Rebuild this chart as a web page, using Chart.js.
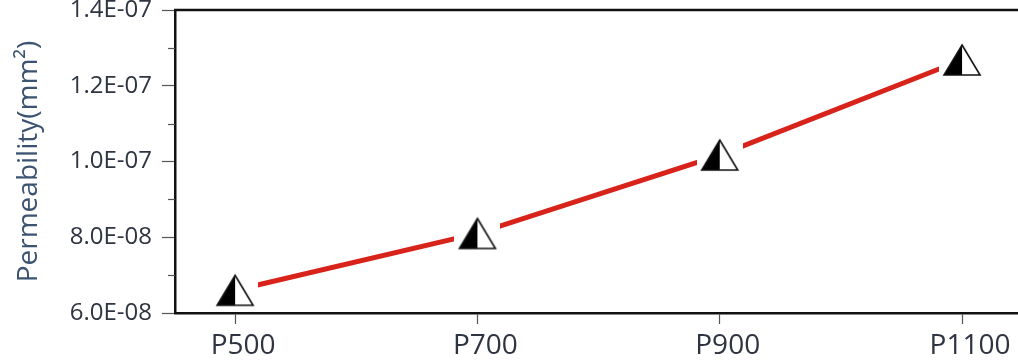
<!DOCTYPE html>
<html>
<head>
<meta charset="utf-8">
<script src="https://cdn.jsdelivr.net/npm/chart.js@4/dist/chart.umd.min.js"></script>
<style>
html,body{margin:0;padding:0;background:#fff;overflow:hidden;}
#wrap{width:1018px;height:363px;}
</style>
</head>
<body>
<div id="wrap"><canvas id="c" width="1018" height="363"></canvas></div>
<script>
const categories = ["P500", "P700", "P900", "P1100"];
const permeability = [6.6e-8, 8.1e-8, 1.017e-7, 1.268e-7];
const yTicks = [6e-8, 8e-8, 1.0e-7, 1.2e-7, 1.4e-7];
const yTickLabels = ["6.0E-08", "8.0E-08", "1.0E-07", "1.2E-07", "1.4E-07"];
const yMinorTicks = [7e-8, 9e-8, 1.1e-7, 1.3e-7];

// marker: triangle, left half black, right half white with outline, on white halo
function makeMarker() {
  const w = 46, h = 40;
  const cv = document.createElement('canvas');
  cv.width = w; cv.height = h;
  const g = cv.getContext('2d');
  g.fillStyle = '#fff';
  g.fillRect(0, 0, w, h);
  const cx = w / 2, top = 5, base = 35, hw = 18;
  g.beginPath();
  g.moveTo(cx, top); g.lineTo(cx, base); g.lineTo(cx - hw, base); g.closePath();
  g.fillStyle = '#000'; g.fill();
  g.beginPath();
  g.moveTo(cx, top); g.lineTo(cx + hw, base); g.lineTo(cx - hw, base); g.closePath();
  g.lineWidth = 1.6; g.strokeStyle = '#111'; g.lineJoin = 'miter'; g.stroke();
  return cv;
}
const marker = makeMarker();

function noScalePadding(s) {
  s._calculatePadding = function () {
    this.paddingLeft = 0; this.paddingRight = 0; this.paddingTop = 0; this.paddingBottom = 0;
  };
}

const framePlugin = {
  id: 'frame',
  afterDraw(chart) {
    const ctx = chart.ctx, a = chart.chartArea, y = chart.scales.y;
    ctx.save();
    ctx.strokeStyle = '#111';
    ctx.lineWidth = 2.5;
    ctx.beginPath();
    ctx.moveTo(a.left - 1, a.top);
    ctx.lineTo(chart.width, a.top);
    ctx.stroke();
    ctx.strokeStyle = '#555';
    ctx.lineWidth = 1.2;
    yMinorTicks.forEach(v => {
      const py = Math.round(y.getPixelForValue(v)) + 0.5;
      ctx.beginPath();
      ctx.moveTo(a.left - 7, py);
      ctx.lineTo(a.left, py);
      ctx.stroke();
    });
    ctx.restore();
  }
};

new Chart(document.getElementById('c'), {
  type: 'line',
  data: {
    datasets: [{
      data: permeability.map((v, i) => ({ x: i, y: v })),
      borderColor: '#d8231b',
      borderWidth: 5,
      pointStyle: marker,
      pointRadius: 20,
      pointHoverRadius: 20,
      tension: 0,
      fill: false
    }]
  },
  options: {
    responsive: false,
    animation: false,
    devicePixelRatio: 1,
    layout: { autoPadding: false, padding: { top: 10, right: 0, left: 0, bottom: 0 } },
    plugins: { legend: { display: false }, tooltip: { enabled: false } },
    scales: {
      x: {
        type: 'linear',
        min: -0.248,
        max: 3.231,
        beforeFit: noScalePadding,
        afterBuildTicks(s) { s.ticks = categories.map((c, i) => ({ value: i })); },
        afterFit(s) { s.height = 50; },
        ticks: {
          callback: (v) => categories[v],
          font: { family: 'Open Sans', size: 28 },
          color: '#2e3440',
          padding: 5,
          labelOffset: 8,
          maxRotation: 0
        },
        grid: { drawOnChartArea: false, tickLength: 11, color: '#555', tickWidth: 1.2 },
        border: { display: true, color: '#111', width: 2.5 }
      },
      y: {
        min: 6e-8,
        max: 1.4e-7,
        beforeFit: noScalePadding,
        afterBuildTicks(s) { s.ticks = yTicks.map(v => ({ value: v })); },
        afterFit(s) { s.width = 175; },
        ticks: {
          callback: (v, i) => yTickLabels[i],
          font: { family: 'Open Sans', size: 24 },
          color: '#2e3440',
          padding: 10
        },
        grid: { drawOnChartArea: false, tickLength: 13, color: '#555', tickWidth: 1.2 },
        border: { display: true, color: '#111', width: 2.5 },
        title: {
          display: true,
          text: 'Permeability(mm²)',
          font: { family: 'Open Sans', size: 28 },
          color: '#3b5370',
          padding: { top: 12, bottom: 0 }
        }
      }
    }
  },
  plugins: [framePlugin]
});
</script>
</body>
</html>
